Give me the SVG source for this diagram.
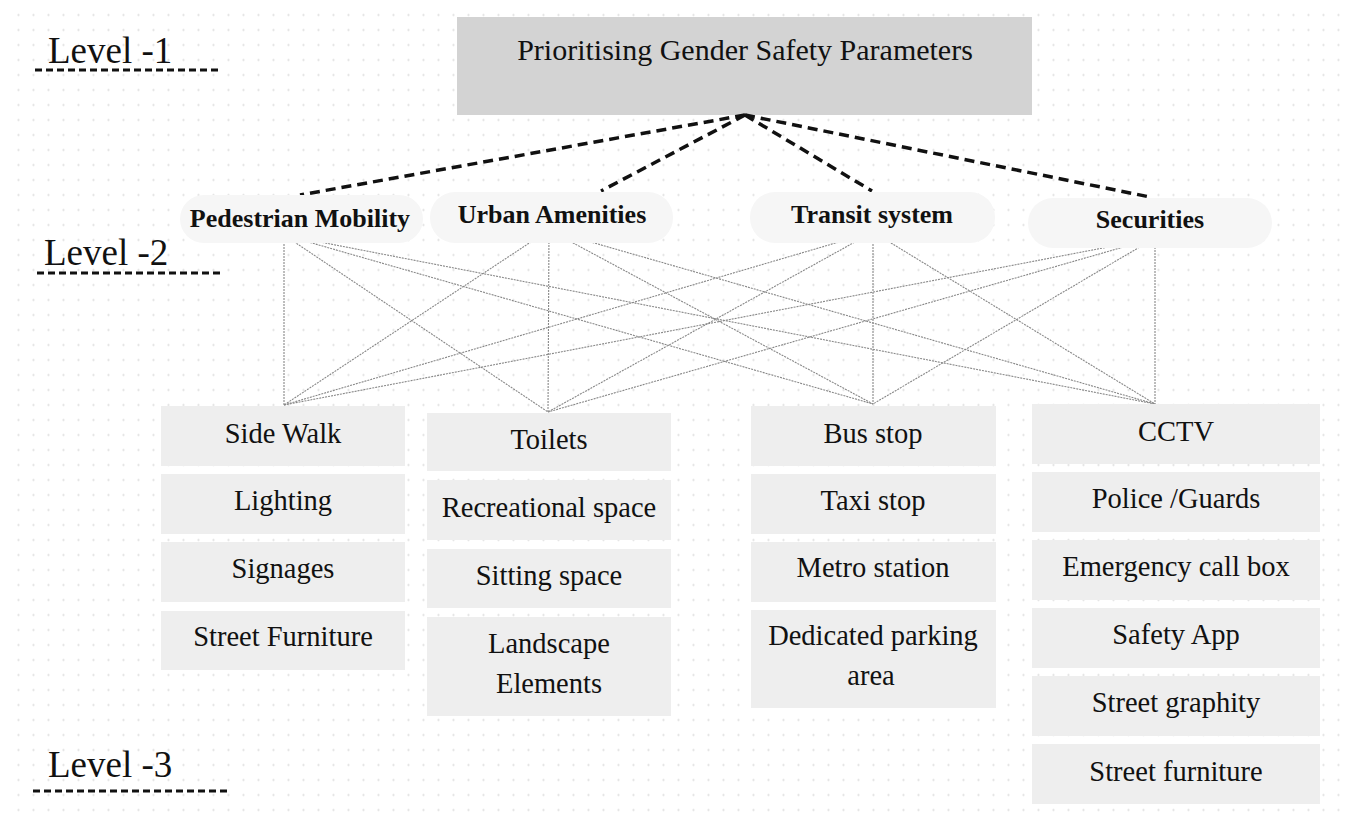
<svg xmlns="http://www.w3.org/2000/svg" width="1356" height="834" viewBox="0 0 1356 834">
<defs>
<pattern id="dots" patternUnits="userSpaceOnUse" x="-4" y="-7.5" width="15" height="15">
<circle cx="7.5" cy="7.5" r="1.1" fill="#dcdcdc"/>
</pattern>
<style>
.lvl{font-family:"Liberation Serif",serif;font-size:37px;fill:#111}
.under{stroke:#111;stroke-width:3;stroke-dasharray:7 4;fill:none}
.title{font-family:"Liberation Serif",serif;font-size:30px;fill:#111;text-anchor:middle}
.l2{font-family:"Liberation Serif",serif;font-size:26px;font-weight:bold;fill:#111;text-anchor:middle}
.l3{font-family:"Liberation Serif",serif;font-size:28.5px;fill:#111;text-anchor:middle}
.pill{fill:#f6f6f6}
.box{fill:#eeeeee}
.thick{stroke:#111;stroke-width:3.5;stroke-dasharray:10 6;fill:none}
.thin{stroke:#888888;stroke-width:1.1;stroke-dasharray:2 1;fill:none}
</style>
</defs>
<rect width="1356" height="834" fill="#ffffff"/>
<rect x="12" y="8" width="1333" height="808" fill="url(#dots)"/>

<g id="level-labels">
<text class="lvl" x="48" y="63">Level -1</text>
<line class="under" x1="35" y1="70" x2="222" y2="70"/>
<text class="lvl" x="44" y="265">Level -2</text>
<line class="under" x1="37" y1="273" x2="224" y2="273"/>
<text class="lvl" x="48" y="777">Level -3</text>
<line class="under" x1="33" y1="791" x2="227" y2="791"/>
</g>

<g id="root">
<rect x="457" y="17" width="575" height="98" fill="#d3d3d3"/>
<text class="title" x="745" y="60">Prioritising Gender Safety Parameters</text>
</g>

<g id="connectors">
<line class="thick" x1="745" y1="115" x2="300" y2="195"/>
<line class="thick" x1="745" y1="115" x2="601" y2="191"/>
<line class="thick" x1="745" y1="115" x2="872" y2="191"/>
<line class="thick" x1="745" y1="115" x2="1150" y2="197"/>
<line class="thin" x1="284" y1="235" x2="284" y2="405"/>
<line class="thin" x1="284" y1="235" x2="548" y2="412"/>
<line class="thin" x1="284" y1="235" x2="873" y2="404"/>
<line class="thin" x1="284" y1="235" x2="1155" y2="404"/>
<line class="thin" x1="549" y1="230" x2="284" y2="405"/>
<line class="thin" x1="549" y1="230" x2="548" y2="412"/>
<line class="thin" x1="549" y1="230" x2="873" y2="404"/>
<line class="thin" x1="549" y1="230" x2="1155" y2="404"/>
<line class="thin" x1="873" y1="232" x2="284" y2="405"/>
<line class="thin" x1="873" y1="232" x2="548" y2="412"/>
<line class="thin" x1="873" y1="232" x2="873" y2="404"/>
<line class="thin" x1="873" y1="232" x2="1155" y2="404"/>
<line class="thin" x1="1155" y1="238" x2="284" y2="405"/>
<line class="thin" x1="1155" y1="238" x2="548" y2="412"/>
<line class="thin" x1="1155" y1="238" x2="873" y2="404"/>
<line class="thin" x1="1155" y1="238" x2="1155" y2="404"/>
</g>

<g id="pedestrian-mobility">
<rect class="pill" x="180" y="195" width="243" height="48" rx="24"/>
<text class="l2" x="300" y="227">Pedestrian Mobility</text>
</g>
<g id="urban-amenities">
<rect class="pill" x="430" y="192" width="243" height="51" rx="25"/>
<text class="l2" x="552" y="223">Urban Amenities</text>
</g>
<g id="transit-system">
<rect class="pill" x="750" y="192" width="245" height="51" rx="25"/>
<text class="l2" x="872" y="223">Transit system</text>
</g>
<g id="securities">
<rect class="pill" x="1028" y="198" width="244" height="50" rx="25"/>
<text class="l2" x="1150" y="228">Securities</text>
</g>

<g id="side-walk"><rect class="box" x="161" y="406" width="244" height="60"/><text class="l3" x="283" y="443">Side Walk</text></g>
<g id="lighting"><rect class="box" x="161" y="474" width="244" height="60"/><text class="l3" x="283" y="510">Lighting</text></g>
<g id="signages"><rect class="box" x="161" y="542" width="244" height="60"/><text class="l3" x="283" y="578">Signages</text></g>
<g id="street-furniture-1"><rect class="box" x="161" y="611" width="244" height="59"/><text class="l3" x="283" y="646">Street Furniture</text></g>

<g id="toilets"><rect class="box" x="427" y="413" width="244" height="58"/><text class="l3" x="549" y="449">Toilets</text></g>
<g id="recreational-space"><rect class="box" x="427" y="480" width="244" height="60"/><text class="l3" x="549" y="517">Recreational space</text></g>
<g id="sitting-space"><rect class="box" x="427" y="549" width="244" height="59"/><text class="l3" x="549" y="585">Sitting space</text></g>
<g id="landscape-elements"><rect class="box" x="427" y="617" width="244" height="99"/><text class="l3" x="549" y="653">Landscape</text><text class="l3" x="549" y="693">Elements</text></g>

<g id="bus-stop"><rect class="box" x="751" y="406" width="245" height="60"/><text class="l3" x="873" y="443">Bus stop</text></g>
<g id="taxi-stop"><rect class="box" x="751" y="474" width="245" height="60"/><text class="l3" x="873" y="510">Taxi stop</text></g>
<g id="metro-station"><rect class="box" x="751" y="542" width="245" height="60"/><text class="l3" x="873" y="577">Metro station</text></g>
<g id="dedicated-parking"><rect class="box" x="751" y="610" width="245" height="98"/><text class="l3" x="873" y="645">Dedicated parking</text><text class="l3" x="871" y="685">area</text></g>

<g id="cctv"><rect class="box" x="1032" y="404" width="288" height="60"/><text class="l3" x="1176" y="441">CCTV</text></g>
<g id="police-guards"><rect class="box" x="1032" y="472" width="288" height="60"/><text class="l3" x="1176" y="508">Police /Guards</text></g>
<g id="emergency-call-box"><rect class="box" x="1032" y="540" width="288" height="60"/><text class="l3" x="1176" y="576">Emergency call box</text></g>
<g id="safety-app"><rect class="box" x="1032" y="608" width="288" height="60"/><text class="l3" x="1176" y="644">Safety App</text></g>
<g id="street-graphity"><rect class="box" x="1032" y="676" width="288" height="60"/><text class="l3" x="1176" y="712">Street graphity</text></g>
<g id="street-furniture-2"><rect class="box" x="1032" y="744" width="288" height="60"/><text class="l3" x="1176" y="781">Street furniture</text></g>
</svg>
